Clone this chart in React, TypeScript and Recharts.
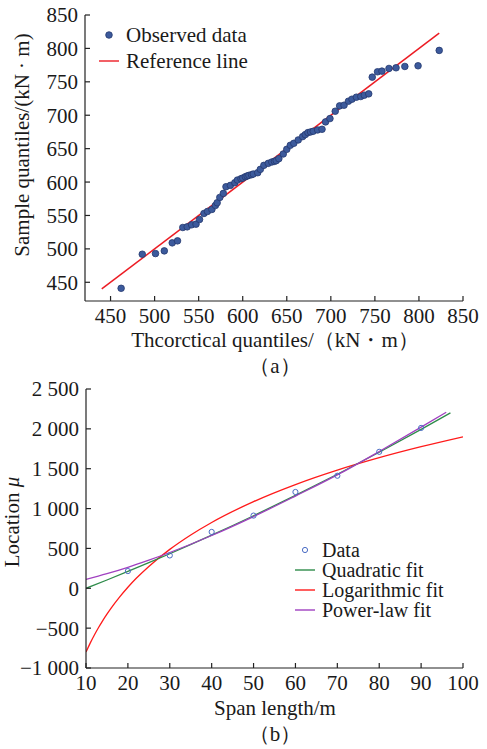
import { ComposedChart, Scatter, Line, XAxis, YAxis } from "recharts";

const FONT = '"Liberation Serif", "Times New Roman", serif';

// (a) QQ plot
const theoreticalQ = [462, 486, 501, 511, 520, 526, 532, 537, 542, 547, 551, 556, 560, 565, 569, 571, 574, 578, 581, 586, 591, 594, 598, 600, 603, 605, 607, 610, 612, 617, 620, 624, 629, 633, 636, 638, 641, 646, 650, 654, 658, 663, 668, 671, 674, 677, 680, 685, 690, 694, 699, 705, 710, 715, 720, 724, 729, 734, 738, 743, 747, 753, 758, 766, 774, 784, 799, 823];
const sampleQ = [441, 492, 493, 497, 509, 512, 532, 533, 536, 537, 544, 553, 556, 559, 565, 569, 577, 583, 593, 595, 599, 603, 605, 606, 608, 609, 610, 611, 612, 614, 619, 625, 628, 630, 631, 632, 635, 642, 649, 655, 658, 663, 668, 671, 674, 675, 676, 678, 679, 690, 695, 706, 714, 715, 721, 724, 727, 728, 730, 732, 757, 765, 766, 770, 771, 773, 774, 797];
const refLineQ = [440, 823];
const qqTicks = [450, 500, 550, 600, 650, 700, 750, 800, 850];

// (b) location vs span
const spanLength = [20, 30, 40, 50, 60, 70, 80, 90];
const locationMu = [216, 412, 707, 912, 1208, 1412, 1712, 2012];

const quadSpan = [10, 15, 20, 25, 30, 40, 50, 60, 70, 80, 90, 97];
const quadFit = [0, 104, 211, 321, 433, 666, 910, 1165, 1430, 1706, 1993, 2200];

const logSpan = [10, 11, 12, 13, 14, 15, 16, 18, 20, 22, 25, 30, 35, 40, 50, 60, 70, 80, 90, 100];
const logFit = [-800, -688, -586, -492, -405, -325, -249, -111, 13, 125, 274, 488, 669, 826, 1087, 1301, 1482, 1638, 1776, 1900];

const powSpan = [10, 15, 20, 25, 30, 40, 50, 60, 70, 80, 90, 96];
const powFit = [112, 183, 263, 353, 449, 662, 900, 1157, 1422, 1716, 2021, 2209];

const spanTicks = [10, 20, 30, 40, 50, 60, 70, 80, 90, 100];
const locTicks = [-1000, -500, 0, 500, 1000, 1500, 2000, 2500];

const zip = (xs: number[], ys: number[]) => xs.map((x, i) => ({ x, y: ys[i] }));

const qqData = zip(theoreticalQ, sampleQ);
const refData = zip(refLineQ, refLineQ);
const obsData = zip(spanLength, locationMu);

const AXIS = "#222";
const tickStyle = { fill: "#1a1a1a", fontSize: 21, fontFamily: FONT };

const fmtLoc = (v: number) => {
  const s = Math.abs(v).toString();
  const body = s.length > 3 ? s.slice(0, s.length - 3) + " " + s.slice(-3) : s;
  return (v < 0 ? "\u2212" : "") + body;
};

function Txt({ x, y, children, rotate }: { x: number; y: number; children: React.ReactNode; rotate?: boolean }) {
  return (
    <div style={{
      position: "absolute", left: x, top: y, transform: `translate(-50%, -50%)${rotate ? " rotate(-90deg)" : ""}`,
      whiteSpace: "nowrap", fontSize: 21, fontFamily: FONT, color: "#1a1a1a", lineHeight: 1,
    }}>{children}</div>
  );
}

function LegendRow({ x, y, kind, color, label, size = 21, h = 24 }: { x: number; y: number; kind: "dot" | "ring" | "line"; color: string; label: string; size?: number; h?: number }) {
  return (
    <div style={{ position: "absolute", left: x, top: y - h / 2, height: h, lineHeight: `${h}px`, display: "flex", alignItems: "center", fontSize: size, fontFamily: FONT, color: "#1a1a1a", whiteSpace: "nowrap" }}>
      <svg width={22} height={h} style={{ marginRight: 6 }}>
        {kind === "dot" && <circle cx={11} cy={h / 2} r={3.3} fill="#3c5a9c" stroke="#24386e" strokeWidth={0.8} />}
        {kind === "ring" && <circle cx={11} cy={h / 2} r={2.6} fill="none" stroke={color} strokeWidth={1} />}
        {kind === "line" && <line x1={1} x2={21} y1={h / 2} y2={h / 2} stroke={color} strokeWidth={1.4} />}
      </svg>
      {label}
    </div>
  );
}

export default function App() {
  return (
    <div style={{ position: "absolute", left: 0, top: 0, width: 487, height: 749, background: "#fff", fontFamily: FONT }}>
      <div style={{ position: "absolute", left: 0, top: 0 }}>
        <ComposedChart width={487} height={375} margin={{ top: 15, right: 24, left: 25, bottom: 44 }}>
          <XAxis type="number" dataKey="x" domain={[421, 850]} ticks={qqTicks} allowDataOverflow
            height={30} tick={tickStyle} stroke={AXIS} strokeWidth={1.2} tickSize={-5} tickMargin={12} />
          <YAxis type="number" dataKey="y" domain={[422, 850]} ticks={qqTicks} allowDataOverflow
            width={60} tick={tickStyle} stroke={AXIS} strokeWidth={1.2} tickSize={-5} tickMargin={12} />
          <Scatter data={qqData} fill="#3c5a9c" stroke="#24386e" strokeWidth={0.8}
            shape={(p: any) => <circle cx={p.cx} cy={p.cy} r={3.3} fill="#3c5a9c" stroke="#24386e" strokeWidth={0.8} />}
            isAnimationActive={false} />
          <Line data={refData} dataKey="y" type="linear" stroke="#ec1c24" strokeWidth={1.5} dot={false} isAnimationActive={false} />
        </ComposedChart>
      </div>

      <LegendRow x={98} y={35} kind="dot" color="#3c5a9c" label="Observed data" />
      <LegendRow x={98} y={61} kind="line" color="#ec1c24" label="Reference line" />

      <Txt x={22} y={145} rotate>Sample quantiles/(kN · m)</Txt>
      <Txt x={275} y={340}>Thcorctical quantiles/（kN・m）</Txt>
      <Txt x={275} y={366}>（a）</Txt>

      <div style={{ position: "absolute", left: 0, top: 375 }}>
        <ComposedChart width={487} height={374} margin={{ top: 14, right: 24, left: 26, bottom: 51 }}>
          <XAxis type="number" dataKey="x" domain={[10, 100]} ticks={spanTicks} allowDataOverflow
            height={30} tick={tickStyle} stroke={AXIS} strokeWidth={1.2} tickSize={-5} tickMargin={12} />
          <YAxis type="number" dataKey="y" domain={[-1000, 2500]} ticks={locTicks} allowDataOverflow
            width={60} tick={tickStyle} tickFormatter={fmtLoc} stroke={AXIS} strokeWidth={1.2} tickSize={-5} tickMargin={12} />
          <Line data={zip(logSpan, logFit)} dataKey="y" type="monotone" stroke="#ff1a1a" strokeWidth={1.3} dot={false} isAnimationActive={false} />
          <Line data={zip(quadSpan, quadFit)} dataKey="y" type="monotone" stroke="#2e8b4a" strokeWidth={1.3} dot={false} isAnimationActive={false} />
          <Line data={zip(powSpan, powFit)} dataKey="y" type="monotone" stroke="#a040c0" strokeWidth={1.3} dot={false} isAnimationActive={false} />
          <Scatter data={obsData}
            shape={(p: any) => <circle cx={p.cx} cy={p.cy} r={2.6} fill="none" stroke="#4a6cc4" strokeWidth={1} />}
            isAnimationActive={false} />
        </ComposedChart>
      </div>

      <LegendRow x={294} y={550} kind="ring" color="#4a6cc4" label="Data" size={20} h={20} />
      <LegendRow x={294} y={570} kind="line" color="#2e8b4a" label="Quadratic fit" size={20} h={20} />
      <LegendRow x={294} y={590} kind="line" color="#ff1a1a" label="Logarithmic fit" size={20} h={20} />
      <LegendRow x={294} y={610} kind="line" color="#a040c0" label="Power-law fit" size={20} h={20} />

      <Txt x={12} y={522} rotate>Location <i>μ</i></Txt>
      <Txt x={275} y={708}>Span length/m</Txt>
      <Txt x={275} y={734}>（b）</Txt>
    </div>
  );
}
